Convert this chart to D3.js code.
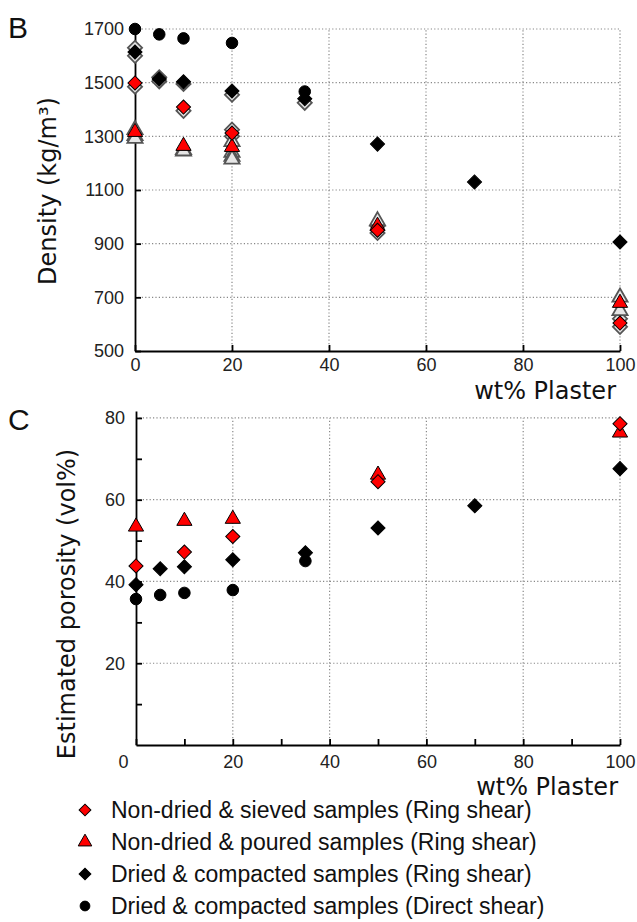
<!DOCTYPE html>
<html>
<head>
<meta charset="utf-8">
<script src="https://cdn.jsdelivr.net/npm/d3@7"></script>
<style>
  body { margin: 0; background: #fff; }
  svg { display: block; }
</style>
</head>
<body>
<div id="chart"></div>
<script>
// ---- data ----
// panel B : density (kg/m3) vs wt% plaster
var densSievedX = [0, 10, 20, 50, 100];
var densSieved  = [1499, 1409, 1312, 950, 604];
var densPouredX = [0, 10, 20, 50, 100];
var densPoured  = [1316, 1264, 1260, 966, 679];
var densRingX   = [0, 5, 10, 20, 35, 50, 70, 100];
var densRing    = [1614, 1514, 1503, 1469, 1440, 1271, 1130, 906];
var densDirectX = [0, 5, 10, 20, 35];
var densDirect  = [1700, 1680, 1665, 1648, 1467];
// grey replicate measurements behind the averages
var repX     = [0, 0, 0, 0, 0, 0, 5, 5, 10, 10, 10, 10, 20, 20, 20, 20, 20, 20, 20, 35, 50, 50, 50, 100, 100, 100, 100];
var repDens  = [1630, 1600, 1485, 1302, 1292, 1325, 1505, 1520, 1495, 1395, 1250, 1245, 1455, 1325, 1300, 1240, 1225, 1215, 1280, 1425, 940, 985, 965, 700, 650, 620, 590];
var repShape = ["d", "d", "d", "t", "t", "t", "d", "d", "d", "d", "t", "t", "d", "d", "d", "t", "t", "t", "t", "d", "d", "t", "d", "t", "t", "d", "d"];

// panel C : estimated porosity (vol%) vs wt% plaster
var porSievedX = [0, 10, 20, 50, 100];
var porSieved  = [43.8, 47.2, 51.0, 64.4, 78.6];
var porPouredX = [0, 10, 20, 50, 100];
var porPoured  = [53.4, 54.8, 55.3, 66.1, 76.4];
var porRingX   = [0, 5, 10, 20, 35, 50, 70, 100];
var porRing    = [39.2, 43.1, 43.6, 45.3, 47.0, 53.1, 58.5, 67.6];
var porDirectX = [0, 5, 10, 20, 35];
var porDirect  = [35.7, 36.7, 37.2, 37.9, 45.0];

var densTicks = [500, 700, 900, 1100, 1300, 1500, 1700];
var porTicks  = [20, 40, 60, 80];
var xTicks    = [0, 20, 40, 60, 80, 100];

var legendLabels = [
  "Non-dried & sieved samples (Ring shear)",
  "Non-dried & poured samples (Ring shear)",
  "Dried & compacted samples (Ring shear)",
  "Dried & compacted samples (Direct shear)"
];

var width = 637, height = 922;
var tickFont = "'Liberation Sans', Arial, sans-serif";
var titleFont = "'DejaVu Sans', Verdana, sans-serif";

var svg = d3.select("#chart").append("svg")
    .attr("width", width).attr("height", height);

function zipXY(xs, ys) { return xs.map(function(x, i) { return [x, ys[i]]; }); }

var diamond = d3.symbol().type(d3.symbolSquare).size(100);
var tri = d3.symbol().type(d3.symbolTriangle).size(100);
var circ = d3.symbol().type(d3.symbolCircle).size(105);

function drawMarks(g, pts, x, y, kind, fill, stroke, sw) {
  var gen = kind == "d" ? diamond : (kind == "t" ? tri : circ);
  g.selectAll(null).data(pts).enter().append("path")
    .attr("d", gen)
    .attr("transform", function(d) {
      return "translate(" + x(d[0]) + "," + y(d[1]) + ")" + (kind == "d" ? " rotate(45)" : "");
    })
    .attr("fill", fill)
    .attr("stroke", stroke)
    .attr("stroke-width", sw || 1);
}

function grid(g, x, y, xs, ys) {
  g.selectAll(null).data(xs).enter().append("line")
    .attr("x1", function(d) { return x(d); }).attr("x2", function(d) { return x(d); })
    .attr("y1", y.range()[0]).attr("y2", y(ys[ys.length - 1]))
    .attr("stroke", "#888").attr("stroke-width", 1.2).attr("stroke-dasharray", "1.2,2.2");
  g.selectAll(null).data(ys).enter().append("line")
    .attr("y1", function(d) { return y(d); }).attr("y2", function(d) { return y(d); })
    .attr("x1", x.range()[0]).attr("x2", x(100))
    .attr("stroke", "#888").attr("stroke-width", 1.2).attr("stroke-dasharray", "1.2,2.2");
}

function styleAxis(a) {
  a.select(".domain").attr("stroke", "#000").attr("stroke-width", 1.8);
  a.selectAll(".tick line").attr("stroke", "#000").attr("stroke-width", 1.8);
  a.selectAll("text").attr("font-family", tickFont).attr("font-size", 18).attr("fill", "#222");
}

// ---------- panel B ----------
var xB = d3.scaleLinear().domain([0, 100]).range([135, 620]);
var yB = d3.scaleLinear().domain([500, 1700]).range([351, 29]);
var gB = svg.append("g");

grid(gB, xB, yB, [20, 40, 60, 80, 100], [700, 900, 1100, 1300, 1500, 1700]);

var axB = gB.append("g").attr("transform", "translate(0,351)")
  .call(d3.axisBottom(xB).tickValues(xTicks).tickFormat(d3.format("d"))
    .tickSizeInner(-6).tickSizeOuter(0).tickPadding(3));
axB.selectAll(".tick text").attr("dy", "0.95em");
styleAxis(axB);
var ayB = gB.append("g").attr("transform", "translate(135,0)")
  .call(d3.axisLeft(yB).tickValues(densTicks).tickFormat(d3.format("d"))
    .tickSizeInner(-6).tickSizeOuter(0).tickPadding(11));
styleAxis(ayB);

// replicates (grey outlines)
var reps = repX.map(function(x, i) { return [x, repDens[i], repShape[i]]; });
["d", "t"].forEach(function(k) {
  drawMarks(gB, reps.filter(function(r) { return r[2] == k; }), xB, yB, k, "#e6e6e6", "#555", 1.8);
});
drawMarks(gB, zipXY(densDirectX, densDirect), xB, yB, "c", "#000", "#000");
drawMarks(gB, zipXY(densRingX, densRing), xB, yB, "d", "#000", "#000");
drawMarks(gB, zipXY(densPouredX, densPoured), xB, yB, "t", "#f00", "#000");
drawMarks(gB, zipXY(densSievedX, densSieved), xB, yB, "d", "#f00", "#000");

gB.append("text").attr("x", 8).attr("y", 38).text("B")
  .attr("font-family", tickFont).attr("font-size", 30).attr("fill", "#111");
gB.append("text").attr("transform", "translate(56,191) rotate(-90)")
  .attr("text-anchor", "middle").text("Density (kg/m³)")
  .attr("font-family", titleFont).attr("font-size", 24).attr("fill", "#111");
gB.append("text").attr("x", 616).attr("y", 399).attr("text-anchor", "end").text("wt% Plaster")
  .attr("font-family", titleFont).attr("font-size", 24).attr("fill", "#111");

// ---------- panel C ----------
var xC = d3.scaleLinear().domain([0, 100]).range([136, 620]);
var yC = d3.scaleLinear().domain([0, 81.7]).range([745, 411]);
var gC = svg.append("g");

grid(gC, xC, yC, [20, 40, 60, 80, 100], porTicks);

var axC = gC.append("g").attr("transform", "translate(0,745)")
  .call(d3.axisBottom(xC).tickValues(d3.range(0, 101, 10)).tickSizeInner(-6).tickSizeOuter(0).tickPadding(3)
    .tickFormat(function(d) { return d % 20 == 0 ? d : ""; }));
axC.selectAll(".tick text").attr("dy", "1.1em");
axC.selectAll(".tick text").filter(function(d) { return d == 0; }).attr("dx", "-13");
styleAxis(axC);
var ayC = gC.append("g").attr("transform", "translate(136,0)")
  .call(d3.axisLeft(yC).tickValues(d3.range(10, 81, 10)).tickSizeInner(-6).tickSizeOuter(0).tickPadding(11)
    .tickFormat(function(d) { return d % 20 == 0 ? d : ""; }));
styleAxis(ayC);

drawMarks(gC, zipXY(porDirectX, porDirect), xC, yC, "c", "#000", "#000");
drawMarks(gC, zipXY(porRingX, porRing), xC, yC, "d", "#000", "#000");
drawMarks(gC, zipXY(porPouredX, porPoured), xC, yC, "t", "#f00", "#000");
drawMarks(gC, zipXY(porSievedX, porSieved), xC, yC, "d", "#f00", "#000");

gC.append("text").attr("x", 8).attr("y", 430).text("C")
  .attr("font-family", tickFont).attr("font-size", 30).attr("fill", "#111");
gC.append("text").attr("transform", "translate(75,604) rotate(-90)")
  .attr("text-anchor", "middle").text("Estimated porosity (vol%)")
  .attr("font-family", titleFont).attr("font-size", 24).attr("fill", "#111");
gC.append("text").attr("x", 618).attr("y", 795).attr("text-anchor", "end").text("wt% Plaster")
  .attr("font-family", titleFont).attr("font-size", 24).attr("fill", "#111");

// ---------- legend ----------
var legY = d3.scalePoint().domain(legendLabels).range([810, 906]);
var legKinds = [["d", "#f00"], ["t", "#f00"], ["d", "#000"], ["c", "#000"]];
var leg = svg.append("g");
legendLabels.forEach(function(lbl, i) {
  var k = legKinds[i];
  var gen = k[0] == "d" ? d3.symbol().type(d3.symbolSquare).size(70)
          : (k[0] == "t" ? d3.symbol().type(d3.symbolTriangle).size(80) : d3.symbol().type(d3.symbolCircle).size(75));
  leg.append("path").attr("d", gen)
    .attr("transform", "translate(85," + legY(lbl) + ")" + (k[0] == "d" ? " rotate(45)" : ""))
    .attr("fill", k[1]).attr("stroke", "#000").attr("stroke-width", 1);
  leg.append("text").attr("x", 111).attr("y", legY(lbl)).attr("dy", "0.36em").text(lbl)
    .attr("font-family", tickFont).attr("font-size", 23).attr("fill", "#111");
});
</script>
</body>
</html>
